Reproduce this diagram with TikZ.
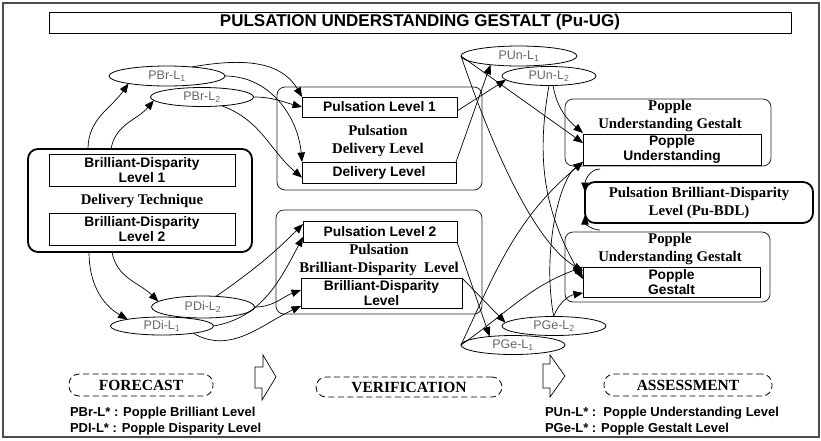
\documentclass[tikz,border=0pt]{standalone}
\usepackage{fontspec}
\setmainfont{Liberation Serif}
\newfontfamily\lsans{Liberation Sans}
\usetikzlibrary{arrows.meta,shapes.geometric}
\begin{document}
\begin{tikzpicture}[x=1pt,y=-1pt,
  every node/.style={inner sep=0pt, outer sep=0pt},
  grp/.style={draw=black!85, line width=0.8pt, rounded corners=8pt},
  heavybox/.style={draw=black, line width=1.8pt, rounded corners=10pt},
  ibox/.style={draw, line width=0.8pt, align=center, font=\lsans\bfseries\fontsize{13.8}{15.5}\selectfont},
  ell/.style={draw, ellipse, line width=0.8pt, font=\lsans\fontsize{12.5}{13}\selectfont, text=black!60},
  stxt/.style={font=\bfseries\fontsize{14.8}{18}\selectfont, align=center},
  arr/.style={-{Triangle[length=9.5pt,width=7.5pt]}, line width=0.7pt},
  dbox/.style={draw, dash pattern=on 6pt off 3.5pt, rounded corners=10pt, line width=0.8pt, font=\bfseries\fontsize{15.5}{17}\selectfont},
  legend/.style={anchor=west, font=\lsans\bfseries\fontsize{13}{14}\selectfont},
  blockarrow/.style={draw, line width=0.7pt, fill=white}
]
\useasboundingbox (0,0) rectangle (821,440);
% frame and title
\node[draw=black!70, line width=1.8pt, minimum width=816pt, minimum height=434pt] (frame) at (411,220) {};
\node[draw, line width=0.8pt, minimum width=742pt, minimum height=21pt, font=\lsans\bfseries\fontsize{17}{20}\selectfont] (title) at (420,22.5) {PULSATION UNDERSTANDING GESTALT (Pu-UG)};

% left delivery technique box
\node[heavybox, minimum width=224pt, minimum height=103pt] (dt) at (140,200.5) {};
\node[ibox, minimum width=186pt, minimum height=32pt] (bd1) at (142,170) {Brilliant-Disparity\\Level 1};
\node[stxt] (dtlab) at (142,201) {Delivery Technique};
\node[ibox, minimum width=186pt, minimum height=32pt] (bd2) at (142,229) {Brilliant-Disparity\\Level 2};

% middle groups
\node[grp, minimum width=205pt, minimum height=103pt] (gDel) at (379.5,138.5) {};
\node[ibox, minimum width=155pt, minimum height=20pt] (pl1) at (379.5,107) {Pulsation Level 1};
\node[stxt] (gDellab) at (378,141) {Pulsation\\Delivery Level};
\node[ibox, minimum width=154pt, minimum height=21pt] (dl) at (379,172.5) {Delivery Level};

\node[grp, minimum width=206pt, minimum height=104pt] (gBD) at (379,262) {};
\node[ibox, minimum width=154pt, minimum height=21pt] (pl2) at (380,231.5) {Pulsation Level 2};
\node[stxt] (gBDlab) at (379,259.5) {Pulsation\\Brilliant-Disparity\ \ Level};
\node[ibox, minimum width=161pt, minimum height=30pt] (bdl) at (381.5,293) {Brilliant-Disparity\\Level};

% right groups
\node[grp, minimum width=206pt, minimum height=67pt] (gPU) at (668,132.5) {};
\node[stxt] (gPUlab) at (670,116) {Popple\\Understanding Gestalt};
\node[ibox, minimum width=178pt, minimum height=31pt] (pu) at (672,149.5) {Popple\\Understanding};

\node[heavybox, minimum width=228pt, minimum height=41pt, stxt] (pubdl) at (699,202.5) {Pulsation Brilliant-Disparity\\Level (Pu-BDL)};

\node[grp, minimum width=205pt, minimum height=70pt] (gPG) at (667.5,267) {};
\node[stxt] (gPGlab) at (670,249) {Popple\\Understanding Gestalt};
\node[ibox, minimum width=177pt, minimum height=30pt] (pg) at (671.5,282) {Popple\\Gestalt};

% ellipses
\node[ell, minimum width=116pt, minimum height=20pt] (e1) at (167,76) {PBr-L\textsubscript{1}};
\node[ell, minimum width=103pt, minimum height=19pt] (e2) at (202,97) {PBr-L\textsubscript{2}};
\node[ell, minimum width=116pt, minimum height=20pt] (e3) at (519,56) {PUn-L\textsubscript{1}};
\node[ell, minimum width=94pt, minimum height=19pt] (e4) at (549,76) {PUn-L\textsubscript{2}};
\node[ell, minimum width=103pt, minimum height=22pt] (e5) at (203,307) {PDi-L\textsubscript{2}};
\node[ell, minimum width=103pt, minimum height=18pt] (e6) at (162,326) {PDi-L\textsubscript{1}};
\node[ell, minimum width=104pt, minimum height=19pt] (e7) at (554,326) {PGe-L\textsubscript{2}};
\node[ell, minimum width=104pt, minimum height=19pt] (e8) at (513,345) {PGe-L\textsubscript{1}};

% connectors: delivery technique -> ellipses
\draw[arr] ([xshift=-52pt]dt.north) to[out=90,in=235] (e1.191);
\draw[arr] ([xshift=-29pt]dt.north) to[out=80,in=230] (e2.184);
\draw[arr] ([xshift=-51pt]dt.south) to[out=-90,in=150] (e6.169);
\draw[arr] ([xshift=-28pt]dt.south) to[out=-80,in=135] (e5.173);
% forecast ellipses -> middle boxes
\draw[arr] (e1.20) to[out=10,in=120] (pl1.north west);
\draw[arr] (e1.east) to[out=0,in=95] (dl.north west);
\draw[arr] (e2.east) to[out=0,in=165] (pl1.west);
\draw[arr] (e2.336) to[out=-20,in=140] ([yshift=-5pt]dl.west);
\draw[arr] (e5.39) to[out=35,in=225] ([yshift=-3pt]pl2.north west);
\draw[arr] (e5.east) to[out=0,in=200] ([yshift=-12pt]bdl.north west);
\draw[arr] (e6.east) to[out=10,in=242] ([yshift=5pt]pl2.south west);
\draw[arr] (e6.-13) to[out=-30,in=205] ([yshift=2pt]bdl.south west);
% middle boxes -> verification ellipses
\draw[arr] ([yshift=-4pt]pl1.east) -- (e4.185);
\draw[arr] (dl.north east) -- (e3.197);
\draw[arr] (pl2.south east) -- (e8.160);
\draw[arr] (bdl.north east) -- (e7.176);
% verification ellipses -> popple boxes
\draw[arr] (e3.west) -- ([yshift=-9pt]pu.north west);
\draw[arr] (e3.west) .. controls +(39,114) and +(-43,-25) .. ([yshift=-4pt]pg.north west);
\draw[arr] (e4.293) to[out=-80,in=140] ([yshift=1pt]pu.north west);
\draw[arr] (e4.south) to[out=-100,in=120] ([yshift=-12pt]pg.north west);
\draw[arr] (e8.west) to[out=65,in=220] ([yshift=3pt]pu.south west);
\draw[arr] (e8.west) to[out=35,in=200] (pg.north west);
\draw[arr] (e7.92) .. controls +(-12,-67) and +(-23,17) .. ([yshift=3pt]pu.south west);
\draw[arr] (e7.92) to[out=70,in=190] ([yshift=4pt]pg.south west);
% groups -> Pu-BDL
\draw[arr] ([shift={(35,3)}]gPU.south west) to[out=180,in=90] ([yshift=-10pt]pubdl.north west);
\draw[arr] ([shift={(35,-2)}]gPG.north west) to[out=180,in=-90] ([yshift=8pt]pubdl.south west);

% bottom row
\node[dbox, minimum width=144pt, minimum height=22pt] (fc) at (141,385) {FORECAST};
\node[dbox, minimum width=186pt, minimum height=20pt] (vf) at (409,387) {VERIFICATION};
\node[dbox, minimum width=168pt, minimum height=22pt] (as) at (688,385) {ASSESSMENT};
\draw[blockarrow] (263,355) -- (263,367) -- (255,367) -- (255,388) -- (262,388) -- (262,400) -- (276,377) -- cycle;
\draw[blockarrow] (550,355) -- (550,364) -- (543,364) -- (543,388) -- (550,388) -- (550,397) -- (565,376) -- cycle;

\node[legend] (lg1) at (70,413) {PBr-L* : Popple Brilliant Level};
\node[legend] (lg2) at (70,429) {PDI-L* : Popple Disparity Level};
\node[legend] (lg3) at (545,413) {PUn-L* :\ \ Popple Understanding Level};
\node[legend] (lg4) at (545,429) {PGe-L* : Popple Gestalt Level};
\end{tikzpicture}
\end{document}
